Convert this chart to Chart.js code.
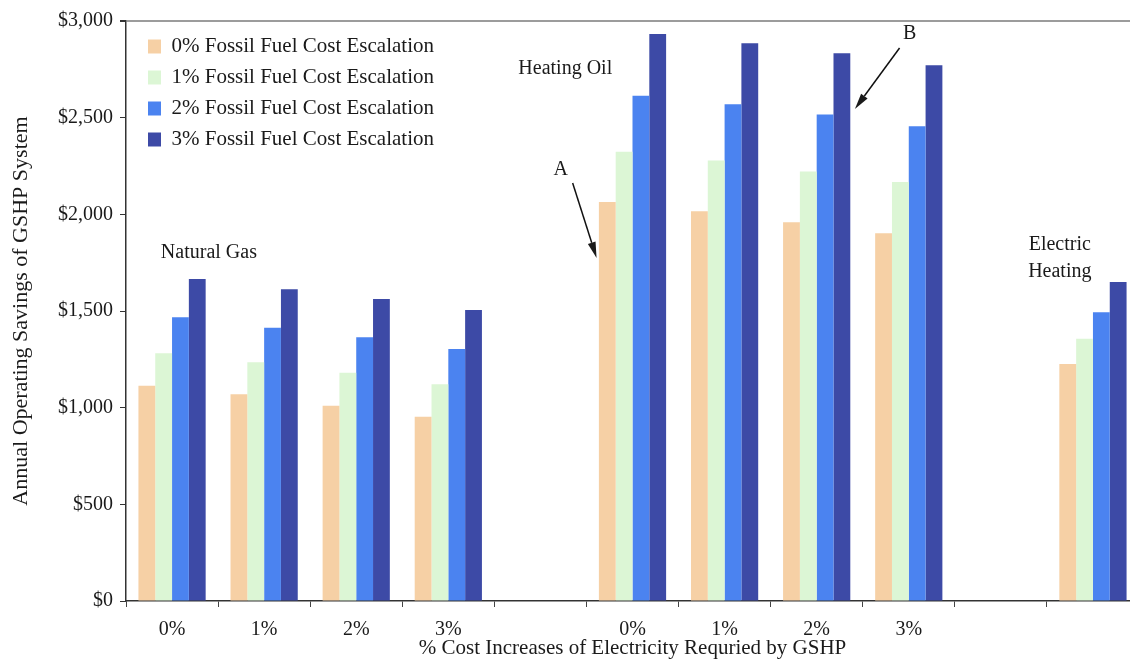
<!DOCTYPE html>
<html>
<head>
<meta charset="utf-8">
<script src="https://cdn.jsdelivr.net/npm/chart.js@4"></script>
<style>
  html, body { margin: 0; padding: 0; background: #fff; overflow: hidden; }
  #wrap { width: 1145px; height: 662px; }
</style>
</head>
<body>
<div id="wrap"><canvas id="myChart"></canvas></div>
<script>
const htmlChart = document.getElementById('myChart');

// kategorier langs x-aksen (tomme plasser mellom gruppene)
const categories = ['0%', '1%', '2%', '3%', '', '0%', '1%', '2%', '3%', '', ''];

// Natural Gas (0-3), tom, Heating Oil (5-8), tom, Electric Heating (10)
const esc0 = [1114, 1069, 1010, 953, null, 2064, 2016, 1959, 1902, null, 1226];
const esc1 = [1281, 1235, 1181, 1121, null, 2324, 2278, 2221, 2167, null, 1357];
const esc2 = [1468, 1413, 1364, 1303, null, 2614, 2569, 2517, 2455, null, 1493];
const esc3 = [1665, 1612, 1562, 1505, null, 2933, 2885, 2833, 2771, null, 1650];

const seriesNames = [
  '0% Fossil Fuel Cost Escalation',
  '1% Fossil Fuel Cost Escalation',
  '2% Fossil Fuel Cost Escalation',
  '3% Fossil Fuel Cost Escalation'
];

const yTicks = [0, 500, 1000, 1500, 2000, 2500, 3000];

// tekst og piler i dataverdier (kategori-indeks, dollar)
const notes = [
  { text: 'Natural Gas', at: [0.4, 1800] },
  { text: 'Heating Oil', at: [4.27, 2752] },
  { text: 'A', at: [4.22, 2229] },
  { text: 'B', at: [8.01, 2933] },
  { text: 'Electric', at: [9.64, 1841] },
  { text: 'Heating', at: [9.64, 1702] }
];
const arrows = [
  { from: [4.35, 2162], to: [4.61, 1774] },
  { from: [7.90, 2860], to: [7.415, 2545] }
];

const serif = '"Liberation Serif", "Times New Roman", serif';
Chart.defaults.font.family = serif;
Chart.defaults.font.size = 20;
Chart.defaults.color = '#1a1a1a';

// flytter legenden litt inn i plottet
const legendShift = {
  id: 'legendShift',
  afterLayout(chart) {
    chart.legend.left += 12;
    chart.legend.top += 26;
  }
};

const notesPlugin = {
  id: 'notes',
  afterDatasetsDraw(chart) {
    const ctx = chart.ctx;
    const x = chart.scales.x;
    const y = chart.scales.y;
    ctx.save();
    ctx.fillStyle = '#1a1a1a';
    ctx.font = '20px ' + serif;
    ctx.textAlign = 'center';
    ctx.textBaseline = 'middle';
    notes.forEach(n => {
      ctx.fillText(n.text, x.getPixelForValue(n.at[0]), y.getPixelForValue(n.at[1]));
    });
    ctx.strokeStyle = '#111';
    ctx.lineWidth = 1.5;
    arrows.forEach(a => {
      const x1 = x.getPixelForValue(a.from[0]), y1 = y.getPixelForValue(a.from[1]);
      const x2 = x.getPixelForValue(a.to[0]), y2 = y.getPixelForValue(a.to[1]);
      const ang = Math.atan2(y2 - y1, x2 - x1);
      const len = 16, half = 4;
      const bx = x2 - len * Math.cos(ang), by = y2 - len * Math.sin(ang);
      ctx.beginPath();
      ctx.moveTo(x1, y1);
      ctx.lineTo(bx, by);
      ctx.stroke();
      ctx.beginPath();
      ctx.moveTo(x2, y2);
      ctx.lineTo(bx + half * Math.sin(ang), by - half * Math.cos(ang));
      ctx.lineTo(bx - half * Math.sin(ang), by + half * Math.cos(ang));
      ctx.closePath();
      ctx.fill();
    });
    ctx.restore();
  }
};

const colors = ['#f6d0a5', '#dcf6d5', '#4b83f0', '#3d4aa6'];
const values = [esc0, esc1, esc2, esc3];

const data = {
  labels: categories,
  datasets: values.map((v, i) => ({
    label: seriesNames[i],
    data: v,
    backgroundColor: colors[i],
    borderWidth: 0,
    categoryPercentage: 0.73,
    barPercentage: 1.0
  }))
};

const config = {
  type: 'bar',
  data: data,
  options: {
    responsive: true,
    maintainAspectRatio: false,
    animation: false,
    layout: { padding: { top: 21, right: 6, left: 0, bottom: 0 } },
    plugins: {
      legend: {
        position: 'chartArea',
        align: 'start',
        labels: {
          boxWidth: 13,
          boxHeight: 14,
          padding: 10,
          color: '#1a1a1a',
          font: { size: 21, family: serif }
        }
      },
      tooltip: { enabled: false }
    },
    scales: {
      x: {
        afterFit(scale) { scale.height = 61; },
        grid: {
          display: true,
          drawOnChartArea: false,
          color: '#444',
          tickLength: 6
        },
        border: { color: '#333', width: 1.5 },
        ticks: { padding: 11, maxRotation: 0, autoSkip: false, color: '#1a1a1a' },
        title: {
          display: true,
          text: '% Cost Increases of Electricity Requried by GSHP',
          color: '#1a1a1a',
          font: { size: 21, family: serif },
          padding: { top: 0, bottom: 1 }
        }
      },
      y: {
        min: 0,
        max: 3000,
        afterFit(scale) { scale.width = 126; },
        afterBuildTicks(scale) { scale.ticks = yTicks.map(v => ({ value: v })); },
        grid: {
          drawOnChartArea: true,
          color: c => (c.tick && c.tick.value === 3000 ? '#9c9c9c' : 'rgba(0,0,0,0)'),
          lineWidth: c => (c.tick && c.tick.value === 3000 ? 2 : 1),
          tickColor: '#333',
          tickLength: 6
        },
        border: { color: '#333', width: 1.5 },
        ticks: {
          padding: 7,
          color: '#1a1a1a',
          callback: v => '$' + v.toLocaleString('en-US')
        },
        title: {
          display: true,
          text: 'Annual Operating Savings of GSHP System',
          color: '#1a1a1a',
          font: { size: 22, family: serif },
          padding: { top: 8, bottom: 0 }
        }
      }
    }
  },
  plugins: [legendShift, notesPlugin]
};

new Chart(htmlChart, config);
</script>
</body>
</html>
